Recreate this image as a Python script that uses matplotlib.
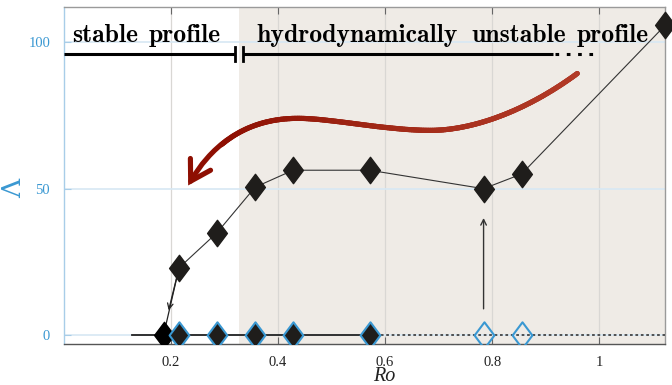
import matplotlib
matplotlib.use("Agg")
import matplotlib.pyplot as plt
from matplotlib.path import Path
from matplotlib.patches import FancyArrowPatch
from matplotlib.collections import LineCollection
from matplotlib.colors import LinearSegmentedColormap
import numpy as np

# ---- data ----
ro_curve = [0.215, 0.286, 0.357, 0.428, 0.571, 0.784, 0.855, 1.123]
lam_curve = [23.0, 35.0, 50.5, 56.3, 56.3, 50.0, 55.0, 105.7]
ro_zero_black = [0.186]
ro_zero_filled = [0.215, 0.286, 0.357, 0.428, 0.571]
ro_zero_open = [0.784, 0.855]
x_ticks = [0.2, 0.4, 0.6, 0.8, 1.0]
x_ticklabels = ["0.2", "0.4", "0.6", "0.8", "1"]
y_ticks = [0, 50, 100]
y_ticklabels = ["0", "50", "100"]
stable_end = 0.327
region_words = ["stable", "profile", "hydrodynamically", "unstable", "profile"]
region_word_x = [0.015, 0.158, 0.360, 0.762, 0.958]

BLUE = "#3a98d2"
BLACK = "#1f1d1b"

fig = plt.figure(figsize=(6.72, 3.85), dpi=100)
ax = fig.add_axes([64/672, 1-344/385, (665-64)/672, (344-7)/385])
ax.set_xlim(0.0, 1.123)
ax.set_ylim(-3, 112)

# shading
ax.axvspan(stable_end, 1.2, color="#efebe6", zorder=0.5, lw=0)

# grid
for xt in x_ticks:
    ax.axvline(xt, color="#d9d7d4", lw=0.9, zorder=1)
for yt in y_ticks:
    ax.axhline(yt, color="#d7e8f4", lw=1.2, zorder=1)

# diamond marker
dia = Path([(0, 1), (0.75, 0), (0, -1), (-0.75, 0), (0, 1)],
           [Path.MOVETO, Path.LINETO, Path.LINETO, Path.LINETO, Path.CLOSEPOLY])

# connecting curve
ax.plot(ro_curve, lam_curve, color="#333333", lw=0.8, zorder=3)
ax.plot(ro_curve, lam_curve, ls="none", marker=dia, ms=19, mfc=BLACK,
        mec=BLACK, zorder=5, clip_on=False)

# line from 23 to 0 with arrow
ax.plot([ro_curve[0], ro_zero_black[0]], [lam_curve[0], 0], color="#222222", lw=0.9, zorder=3)
ax.annotate("", xy=(0.1955, 8.5), xytext=(ro_curve[0], lam_curve[0]),
            arrowprops=dict(arrowstyle="->", color="#222222", lw=0.9,
                            shrinkA=0, shrinkB=0, mutation_scale=10), zorder=4)

# vertical arrow
ax.annotate("", xy=(ro_zero_open[0], 40), xytext=(ro_zero_open[0], 9),
            arrowprops=dict(arrowstyle="->", color="#333333", lw=1.0,
                            shrinkA=0, shrinkB=0, mutation_scale=10), zorder=4)

# baseline at zero
ax.plot([0.127, ro_zero_filled[-1]], [0, 0], color="#222222", lw=1.3, zorder=3)
ax.plot([ro_zero_filled[-1], 1.123], [0, 0], color="#444444", lw=1.3,
        ls=(0, (1.5, 1.5)), zorder=3)

ax.plot(ro_zero_black, [0]*len(ro_zero_black), ls="none", marker=dia, ms=19,
        mfc="black", mec="black", zorder=5)
ax.plot(ro_zero_filled, [0]*len(ro_zero_filled), ls="none", marker=dia, ms=19,
        mfc=BLACK, mec=BLUE, mew=1.5, zorder=6)
ax.plot(ro_zero_open, [0]*len(ro_zero_open), ls="none", marker=dia, ms=19,
        mfc="none", mec=BLUE, mew=1.5, zorder=6)

# top region bars
ybar = 96.0
ax.plot([0.0, 0.320], [ybar, ybar], color="black", lw=2.2, zorder=4, solid_capstyle="butt")
ax.plot([0.320, 0.320], [ybar-2.3, ybar+2.3], color="black", lw=2.0, zorder=4)
ax.plot([0.334, 0.334], [ybar-2.3, ybar+2.3], color="black", lw=2.0, zorder=4)
ax.plot([0.334, 0.913], [ybar, ybar], color="black", lw=2.2, zorder=4, solid_capstyle="butt")
ax.plot([0.918, 0.99], [ybar, ybar], color="black", lw=2.2, zorder=4,
        ls=(0, (1.2, 2.5)))

for w, xw in zip(region_words, region_word_x):
    ax.text(xw, 100.0, w, family="cmb10", fontsize=18.5,
            ha="left", va="baseline", zorder=6)

# red curved arrow (annotation geometry)
verts = [(0.959, 89.3), (0.86, 76.0), (0.76, 69.9), (0.685, 69.9),
         (0.60, 69.9), (0.50, 74.0), (0.437, 74.0),
         (0.33, 74.0), (0.27, 63.0), (0.232, 51.1)]
codes = [Path.MOVETO] + [Path.CURVE4]*9
arr = FancyArrowPatch(path=Path(verts, codes),
                      arrowstyle="->,head_length=0.7,head_width=0.42",
                      color="#8e0f02", lw=3.7, mutation_scale=20, zorder=7,
                      capstyle="round", joinstyle="miter", shrinkA=0, shrinkB=0)
ax.add_patch(arr)

# gradient overlay on the body
pts = []
for k in range(3):
    p0, c1, c2, p3 = [np.array(v) for v in verts[3*k:3*k+4]]
    t = np.linspace(0, 1, 60)[:, None]
    seg = (1-t)**3*p0 + 3*(1-t)**2*t*c1 + 3*(1-t)*t**2*c2 + t**3*p3
    pts.append(seg if k == 0 else seg[1:])
pts = np.vstack(pts)
pts = pts[:-25]
segs = np.stack([pts[:-1], pts[1:]], axis=1)
cmap = LinearSegmentedColormap.from_list("rd", ["#b23a27", "#a22a18", "#8e0f02"])
lc = LineCollection(segs, cmap=cmap, linewidths=3.7, capstyle="round", zorder=7.5)
lc.set_array(np.linspace(0, 1, len(segs)))
ax.add_collection(lc)

# ticks
ax.set_xticks(x_ticks)
ax.set_xticklabels(x_ticklabels, family="Liberation Serif", fontsize=10.5, color="#222222")
ax.set_yticks(y_ticks)
ax.set_yticklabels(y_ticklabels, family="Liberation Serif", fontsize=10.5, color=BLUE)
ax.tick_params(axis="x", direction="in", length=5, color="#666666", top=True, pad=9)
ax.tick_params(axis="y", direction="in", length=5, color="#a8cde8", pad=10)

for s in ["top", "right"]:
    ax.spines[s].set_color("#9a9a9a")
ax.spines["bottom"].set_color("#555555")
ax.spines["left"].set_color("#a8cde8")
for s in ax.spines.values():
    s.set_linewidth(1.0)

ax.set_ylabel("Λ", family="DejaVu Serif", fontsize=19, color=BLUE)
ax.yaxis.set_label_coords(-0.063, 0.463)
ax.set_xlabel("Ro", family="Liberation Serif", style="italic", fontsize=14.5, color="#222222")
ax.xaxis.set_label_coords(0.533, -0.069)
ax.xaxis.label.set_va("top")

fig.savefig("out.png", dpi=100)
